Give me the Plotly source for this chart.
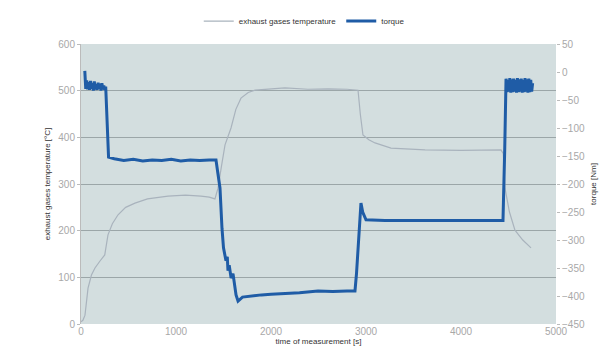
import plotly.graph_objects as go

# time [s] and exhaust gases temperature [°C]
temp_time = [0, 20, 42, 74, 110, 147, 200, 250, 284, 330, 390, 470, 568, 700, 916, 1100, 1263, 1350, 1410,
             1442, 1480, 1516, 1579, 1630, 1684, 1760, 1832, 2000, 2147, 2389, 2600, 2800, 2916,
             2940, 2968, 3030, 3095, 3263, 3450, 3621, 4000, 4300, 4421, 4445,
             4463, 4510, 4568, 4650, 4737]
temp_vals = [5, 8, 19, 77, 105, 120, 135, 148, 191, 215, 234, 250, 259, 268, 274, 276, 274, 272, 268,
             291, 340, 384, 420, 460, 484, 496, 501, 504, 506, 503, 504, 503, 501,
             450, 405, 395, 388, 377, 375, 373, 372, 373, 373, 365,
             291, 240, 201, 180, 163]

# time [s] and torque [Nm]
torque_time = [40, 50, 60, 70, 80, 90, 100, 110, 120, 130, 140, 150, 160, 170, 180, 190, 200, 210,
               220, 230, 240, 250, 260,
               280, 290, 350, 450, 550, 650, 750, 850, 950, 1050, 1150, 1250, 1350, 1421,
               1440, 1463, 1484, 1500, 1526, 1540, 1547, 1560, 1580, 1600, 1632, 1653,
               1700, 1790, 1900, 2000, 2147, 2300, 2495, 2650, 2800, 2884,
               2900, 2916, 2935, 2947, 2965, 3000, 3200, 3400, 3600, 3800, 4000, 4200, 4442,
               4460, 4474, 4484, 4494, 4504, 4514, 4524, 4534, 4544, 4554, 4564, 4574, 4584, 4594,
               4604, 4614, 4624, 4634, 4644, 4654, 4664, 4674, 4684, 4694, 4704, 4714, 4724, 4734,
               4744, 4754]
torque_vals = [2, -30, -15, -31, -18, -32, -16, -30, -20, -33, -17, -31, -22, -32, -19, -30, -21, -33,
               -20, -31, -24, -32, -26,
               -140, -152, -155, -158, -156, -159, -157, -158, -156, -159, -157, -158, -157, -157,
               -180, -207, -279, -314, -337, -330, -355, -345, -368, -360, -398, -409,
               -402, -400, -398, -397, -396, -394, -391, -392, -391, -391,
               -360, -314, -250, -234, -250, -264, -265, -265, -264, -265, -265, -264, -265,
               -140, -12, -36, -14, -35, -11, -37, -13, -36, -12, -35, -14, -37, -11,
               -36, -13, -35, -12, -37, -14, -36, -11, -35, -13, -37, -12, -36, -14,
               -35, -20]

left_ticks = [0, 100, 200, 300, 400, 500, 600]
right_ticks = [50, 0, -50, -100, -150, -200, -250, -300, -350, -400, -450]
x_ticks = [0, 1000, 2000, 3000, 4000, 5000]

fig = go.Figure()
fig.add_trace(go.Scatter(x=temp_time, y=temp_vals, mode="lines", name="exhaust gases temperature",
                         line=dict(color="#a9b3bd", width=1.2)))
fig.add_trace(go.Scatter(x=torque_time, y=torque_vals, mode="lines", name="torque", yaxis="y2",
                         line=dict(color="#1f5ca6", width=3)))

tickfont = dict(family="Liberation Sans, Arial", size=10, color="#a8a8a8")
titlefont = dict(family="Liberation Sans, Arial", size=8, color="#333333")

fig.update_layout(
    width=614, height=360,
    margin=dict(l=73, r=66, t=36, b=44, autoexpand=False),
    paper_bgcolor="white",
    plot_bgcolor="#d3dedf",
    showlegend=True,
    legend=dict(orientation="h", x=0.47, xanchor="center", y=1.082, yanchor="middle",
                font=dict(family="Liberation Sans, Arial", size=8, color="#333333"),
                bgcolor="rgba(0,0,0,0)", itemwidth=30),
    xaxis=dict(range=[0, 5000], tickvals=x_ticks, showgrid=False, zeroline=False,
               tickfont=tickfont, ticks="", showline=False,
               title=dict(text="time of measurement [s]", font=titlefont, standoff=2)),
    yaxis=dict(range=[0, 600], tickvals=left_ticks, showgrid=True, gridcolor="#9ba6a8", gridwidth=1,
               zeroline=False, tickfont=tickfont, ticks="outside", ticklen=3, tickcolor="#bbbbbb",
               showline=True, linecolor="#bbbbbb",
               title=dict(text="exhaust gases temperature [°C]", font=titlefont, standoff=6)),
    yaxis2=dict(range=[-450, 50], tickvals=right_ticks, overlaying="y", side="right",
                showgrid=False, zeroline=False, tickfont=tickfont, ticks="outside", ticklen=3,
                tickcolor="#bbbbbb",
                title=dict(text="torque [Nm]", font=titlefont, standoff=6)),
)

fig.write_html("out.html")
